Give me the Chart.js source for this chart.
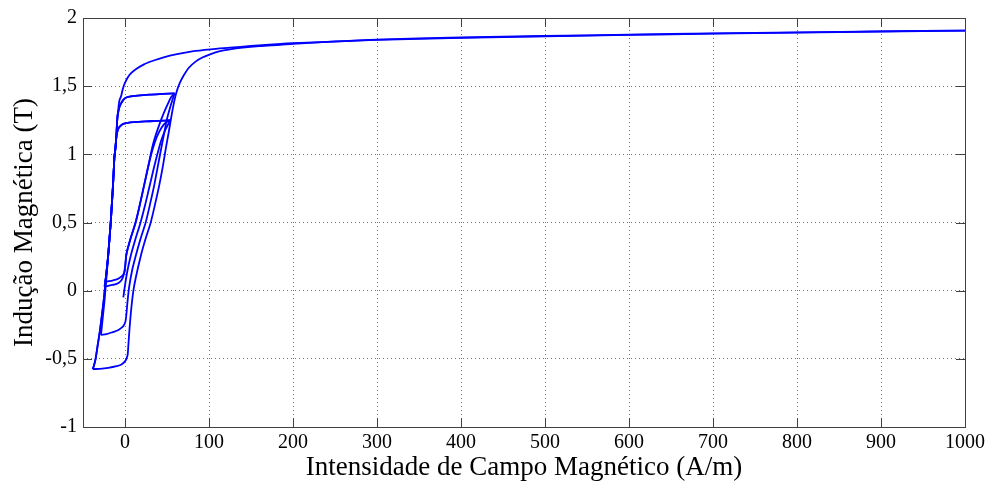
<!DOCTYPE html>
<html>
<head>
<meta charset="utf-8">
<script src="https://cdn.jsdelivr.net/npm/chart.js@4/dist/chart.umd.min.js"></script>
<style>
  html, body { margin: 0; padding: 0; background: #fff; }
  #wrap { width: 995px; height: 486px; }
</style>
</head>
<body>
<div id="wrap"><canvas id="bh"></canvas></div>
<script>
// B-H trajectory, [H (A/m), B (T)] pairs, one array per branch
const initialRise = [[-2,-0.05],[0,0.04],[3,0.15],[7,0.26],[12,0.37],[18.5,0.5],[24,0.63],[29,0.76],[34,0.89],[38.5,1.0],[43,1.1],[48,1.18],[54,1.25]]
const plateau1 = [[54,1.25],[40,1.246],[25,1.242],[10,1.236],[2,1.229],[-2.7,1.222],[-5,1.21],[-6.7,1.2],[-8.7,1.175],[-10,1.14]]
const plateau2 = [[59,1.447],[45,1.443],[29,1.438],[15,1.431],[5.2,1.423],[0,1.412],[-2.7,1.394],[-5,1.37],[-6.7,1.345],[-8,1.31],[-8.7,1.29],[-9.4,1.24],[-10,1.17]]
const steepFall = [[-10.7,1.1],[-11.5,1.04],[-12.6,0.98],[-13.5,0.87],[-14.5,0.75],[-15.8,0.62],[-17,0.5],[-18.5,0.38],[-20,0.26]]
const fallToC1 = [[-21.5,0.16],[-23,0.08],[-24.5,0.03]]
const riseFromC1 = [[-24.5,0.03],[-20,0.036],[-15,0.042],[-10,0.05],[-6,0.065],[-3,0.09],[-1,0.13],[0.5,0.2],[2,0.28],[7,0.39],[12.7,0.5],[18,0.64],[23,0.78],[28,0.92],[33,1.04],[38,1.13],[44,1.2],[49,1.235],[54,1.25]]
const fallToMid = [[-21.5,0.14],[-23,0.03],[-24.5,-0.08],[-26.5,-0.2],[-28.6,-0.324]]
const riseFromMid = [[-28.6,-0.324],[-22,-0.318],[-14.6,-0.304],[-9,-0.292],[-4.7,-0.275],[-1.5,-0.255],[0.5,-0.227],[1.7,-0.17],[3,-0.08],[5,0.03],[8.5,0.15],[13,0.26],[18.5,0.38],[24.6,0.5],[30,0.64],[35,0.78],[39,0.91],[43,1.04],[46.5,1.15],[50,1.26],[54,1.35],[57,1.41],[59,1.447]]
const fallToC2 = [[-21.5,0.17],[-22.8,0.1],[-23.8,0.066]]
const riseFromC2 = [[-23.8,0.066],[-19,0.07],[-14,0.076],[-9,0.085],[-5,0.1],[-2.5,0.115],[-0.7,0.135],[0.5,0.19],[1.5,0.26],[6.5,0.38],[12.5,0.5],[18,0.64],[23,0.78],[28,0.92],[32,1.04],[36,1.13],[41,1.22],[46,1.3],[51,1.37],[55,1.42],[59,1.447]]
const fallToTip = [[-21.5,0.17],[-23,0.077],[-25,-0.05],[-27.5,-0.18],[-30,-0.3],[-32.5,-0.4],[-35,-0.5],[-37,-0.55],[-38.5,-0.575]]
const majorRise = [[-38.5,-0.575],[-30,-0.573],[-20,-0.566],[-10,-0.554],[-4.8,-0.543],[-1,-0.525],[1.2,-0.507],[2.5,-0.485],[3.2,-0.47],[4,-0.4],[5.5,-0.27],[7.5,-0.13],[10,0],[13,0.1],[19,0.26],[24.5,0.38],[30.6,0.5],[36,0.64],[41,0.78],[45,0.91],[48.5,1.04],[52,1.16],[55,1.27],[58,1.37],[61,1.45],[65,1.52],[70,1.58],[76,1.635],[84,1.68],[92,1.71],[102,1.735],[112,1.755],[125,1.77],[140,1.782],[160,1.793],[185,1.803],[200,1.81],[250,1.828],[300,1.842],[400,1.857],[500,1.868],[600,1.878],[700,1.887],[800,1.895],[900,1.902],[1000,1.908]]
const majorFall = [[1000,1.908],[900,1.901],[800,1.893],[700,1.885],[600,1.876],[500,1.866],[400,1.854],[300,1.839],[250,1.827],[200,1.815],[185,1.81],[150,1.795],[125,1.782],[102,1.77],[80,1.755],[62,1.735],[45,1.71],[35,1.69],[22.6,1.66],[12,1.62],[5,1.58],[1.2,1.54],[-1,1.51],[-3,1.47],[-4.5,1.43],[-6.7,1.394],[-8,1.33],[-8.7,1.29],[-9.4,1.24],[-10,1.17]]

const xTicks = [0, 100, 200, 300, 400, 500, 600, 700, 800, 900, 1000]
const yTicks = [-1, -0.5, 0, 0.5, 1, 1.5, 2]
const xLabel = 'Intensidade de Campo Magnético (A/m)'
const yLabel = 'Indução Magnética (T)'

const branches = [
  initialRise,
  [...plateau1, ...steepFall, ...fallToC1],
  riseFromC1,
  [...plateau1, ...steepFall, ...fallToMid],
  riseFromMid,
  [...plateau2, ...steepFall, ...fallToC2],
  riseFromC2,
  [...plateau2, ...steepFall, ...fallToTip],
  majorRise,
  [...majorFall, ...steepFall, ...fallToTip]
]

const serif = "'Liberation Serif', 'Times New Roman', serif"
const axisColor = '#404040'

// box around the plot with inward tick marks on all four sides, plus axis labels
const boxTicks = {
  id: 'boxTicks',
  afterDraw(chart) {
    const { ctx, chartArea: a, scales } = chart
    const len = 9
    ctx.save()
    ctx.strokeStyle = axisColor
    ctx.lineWidth = 1
    ctx.beginPath()
    xTicks.forEach(v => {
      const x = Math.round(scales.x.getPixelForValue(v)) + 0.5
      ctx.moveTo(x, a.bottom); ctx.lineTo(x, a.bottom - len)
      ctx.moveTo(x, a.top); ctx.lineTo(x, a.top + len)
    })
    yTicks.forEach(v => {
      const y = Math.round(scales.y.getPixelForValue(v)) + 0.5
      ctx.moveTo(a.left, y); ctx.lineTo(a.left + len, y)
      ctx.moveTo(a.right, y); ctx.lineTo(a.right - len, y)
    })
    ctx.stroke()
    ctx.strokeRect(Math.round(a.left) + 0.5, Math.round(a.top) + 0.5,
      Math.round(a.right - a.left), Math.round(a.bottom - a.top))

    ctx.fillStyle = '#000'
    ctx.textAlign = 'center'
    ctx.textBaseline = 'alphabetic'
    ctx.font = '27px ' + serif
    ctx.fillText(xLabel, (a.left + a.right) / 2, 475)
    ctx.translate(32, (a.top + a.bottom) / 2)
    ctx.rotate(-Math.PI / 2)
    ctx.fillText(yLabel, 0, 0)
    ctx.restore()
  }
}

new Chart(document.getElementById('bh'), {
  type: 'scatter',
  data: {
    datasets: branches.map(b => ({
      data: b.map(p => ({ x: p[0], y: p[1] })),
      showLine: true,
      borderColor: '#0000ff',
      borderWidth: 1.8,
      tension: 0.3,
      pointRadius: 0,
      pointHoverRadius: 0,
      fill: false
    }))
  },
  options: {
    responsive: true,
    maintainAspectRatio: false,
    animation: false,
    events: [],
    layout: { padding: { top: 17, right: 30, left: 0, bottom: 0 } },
    plugins: {
      legend: { display: false },
      tooltip: { enabled: false }
    },
    scales: {
      x: {
        type: 'linear',
        min: -50,
        max: 1000,
        afterBuildTicks: s => { s.ticks = xTicks.map(v => ({ value: v })) },
        afterFit: s => { s.height = 59 },
        grid: { color: 'rgba(0,0,0,0.55)', tickLength: 0, drawTicks: false },
        border: { display: false, dash: [1, 3] },
        ticks: {
          color: '#000',
          padding: 4,
          maxRotation: 0,
          font: { family: serif, size: 20 },
          callback: v => String(v)
        }
      },
      y: {
        type: 'linear',
        min: -1,
        max: 2,
        afterBuildTicks: s => { s.ticks = yTicks.map(v => ({ value: v })) },
        afterFit: s => { s.width = 83 },
        grid: { color: 'rgba(0,0,0,0.55)', tickLength: 0, drawTicks: false },
        border: { display: false, dash: [1, 3] },
        ticks: {
          color: '#000',
          padding: 6,
          font: { family: serif, size: 20 },
          callback: v => String(v).replace('.', ',')
        }
      }
    }
  },
  plugins: [boxTicks]
})
</script>
</body>
</html>
